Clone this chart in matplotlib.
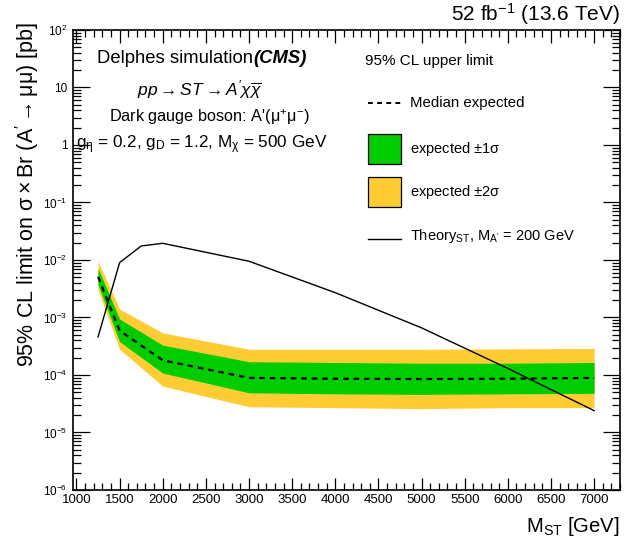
import math
import matplotlib
matplotlib.use("Agg")
import matplotlib.pyplot as plt
import matplotlib.ticker as mticker
from matplotlib.patches import Rectangle
from matplotlib.lines import Line2D

plt.rcParams['font.family'] = ['Liberation Sans', 'DejaVu Sans']
plt.rcParams['mathtext.fontset'] = 'custom'
plt.rcParams['mathtext.rm'] = 'Liberation Sans'
plt.rcParams['mathtext.it'] = 'Liberation Sans:italic'
plt.rcParams['mathtext.bf'] = 'Liberation Sans:bold'

# expected limit bands (pb)
mass = [1250, 1500, 2000, 3000, 4000, 5000, 6000, 7000]
median = [5.1e-3, 5.9e-4, 1.8e-4, 8.9e-5, 8.6e-5, 8.5e-5, 8.6e-5, 8.9e-5]
sig1_lo = [3.7e-3, 3.8e-4, 1.08e-4, 4.9e-5, 4.7e-5, 4.6e-5, 4.7e-5, 4.8e-5]
sig1_hi = [7.2e-3, 9.4e-4, 3.3e-4, 1.7e-4, 1.65e-4, 1.6e-4, 1.6e-4, 1.65e-4]
sig2_lo = [3.0e-3, 2.8e-4, 6.4e-5, 2.8e-5, 2.7e-5, 2.6e-5, 2.7e-5, 2.7e-5]
sig2_hi = [9.5e-3, 1.4e-3, 5.4e-4, 2.8e-4, 2.8e-4, 2.8e-4, 2.85e-4, 2.9e-4]

# theory cross section, M_A' = 200 GeV
th_mass = [1250, 1500, 1750, 2000, 3000, 4000, 5000, 6000, 7000]
th_xsec = [4.6e-4, 9.0e-3, 1.75e-2, 1.95e-2, 9.5e-3, 2.7e-3, 6.6e-4, 1.3e-4, 2.4e-5]

green = '#00cc00'
yellow = '#ffcc33'

fig = plt.figure(figsize=(6.44, 5.44), dpi=100)
ax = fig.add_axes([0.1134, 0.0993, 0.8493, 0.8456])

ax.fill_between(mass, sig2_lo, sig2_hi, color=yellow, lw=0)
ax.fill_between(mass, sig1_lo, sig1_hi, color=green, lw=0)
ax.plot(mass, median, color='black', ls=(0, (2.5, 2.2)), lw=1.6)
ax.plot(th_mass, th_xsec, color='black', lw=1.0)

ax.set_yscale('log')
ax.set_xlim(960, 7300)
ax.set_ylim(1e-6, 1e2)

ax.xaxis.set_major_locator(mticker.MultipleLocator(500))
ax.xaxis.set_minor_locator(mticker.MultipleLocator(100))
ax.yaxis.set_major_locator(mticker.LogLocator(base=10, numticks=20))
ax.yaxis.set_minor_locator(mticker.LogLocator(base=10, subs=range(2, 10), numticks=20))
ax.yaxis.set_minor_formatter(mticker.NullFormatter())


def ylab(v, pos):
    e = round(math.log10(v))
    if e == 0:
        return '1'
    if e == 1:
        return '10'
    return r'$10^{%d}$' % e


ax.yaxis.set_major_formatter(mticker.FuncFormatter(ylab))

ax.tick_params(which='both', direction='in', top=True, right=True, width=0.9)
ax.tick_params(axis='x', which='major', length=9, labelsize=9.5, pad=3)
ax.tick_params(axis='x', which='minor', length=5)
ax.tick_params(axis='y', which='major', length=12, labelsize=8.5, pad=4)
ax.tick_params(axis='y', which='minor', length=6)
for s in ax.spines.values():
    s.set_linewidth(1.2)

fig.text(0.042, 1 - 22 / 544, r"95% CL limit on $\mathrm{\sigma \times Br\ (A' \rightarrow \mu\mu)}$ [pb]",
         rotation=90, ha='center', va='top', fontsize=15.5)
fig.text(0.963, 1 - 527 / 544, r"$\mathrm{M_{ST}}$ [GeV]", ha='right', va='center', fontsize=14.6)
fig.text(0.963, 1 - 14 / 544, r"52 $\mathrm{fb^{-1}}$ (13.6 TeV)", ha='right', va='center', fontsize=15)

# annotations
t = ax.text(0.044, 0.939, "Delphes simulation", transform=ax.transAxes, fontsize=13.3, va='center')
ax.annotate("(CMS)", xycoords=t, xy=(1, 0.5), va='center', fontsize=13.3,
            fontweight='bold', fontstyle='italic')
ax.text(0.232, 0.870, r"$pp \rightarrow ST \rightarrow A'\chi\overline{\chi}$",
        transform=ax.transAxes, fontsize=12.5, ha='center', va='center')
ax.text(0.249, 0.811, r"Dark gauge boson: A'($\mathrm{\mu^{+}\mu^{-}}$)",
        transform=ax.transAxes, fontsize=11.7, ha='center', va='center')
ax.text(0.005, 0.750, r"$\mathrm{g_{\eta}}$ = 0.2, $\mathrm{g_{D}}$ = 1.2, $\mathrm{M_{\chi}}$ = 500 GeV",
        transform=ax.transAxes, fontsize=12.3, ha='left', va='center')

# legend drawn by hand
ax.text(0.534, 0.933, "95% CL upper limit", transform=ax.transAxes, fontsize=11, va='center')
lx0, lx1 = 0.540, 0.600
tx = 0.617
ax.add_line(Line2D([lx0, lx1], [0.841, 0.841], transform=ax.transAxes, color='black',
                   ls=(0, (2.5, 2.2)), lw=1.4))
ax.text(tx, 0.841, "Median expected", transform=ax.transAxes, fontsize=10.8, va='center')
ax.add_patch(Rectangle((lx0, 0.709), lx1 - lx0, 0.065, transform=ax.transAxes,
                       facecolor=green, edgecolor='black', lw=0.9))
ax.text(tx, 0.741, r"expected $\mathrm{\pm1\sigma}$", transform=ax.transAxes, fontsize=10.5, va='center')
ax.add_patch(Rectangle((lx0, 0.615), lx1 - lx0, 0.065, transform=ax.transAxes,
                       facecolor=yellow, edgecolor='black', lw=0.9))
ax.text(tx, 0.647, r"expected $\mathrm{\pm2\sigma}$", transform=ax.transAxes, fontsize=10.5, va='center')
ax.add_line(Line2D([lx0, lx1], [0.546, 0.546], transform=ax.transAxes, color='black', lw=1.0))
ax.text(tx, 0.552, r"$\mathrm{Theory_{ST}}$, $\mathrm{M_{A'}}$ = 200 GeV",
        transform=ax.transAxes, fontsize=10.5, va='center')

fig.savefig("out.png", dpi=100)
